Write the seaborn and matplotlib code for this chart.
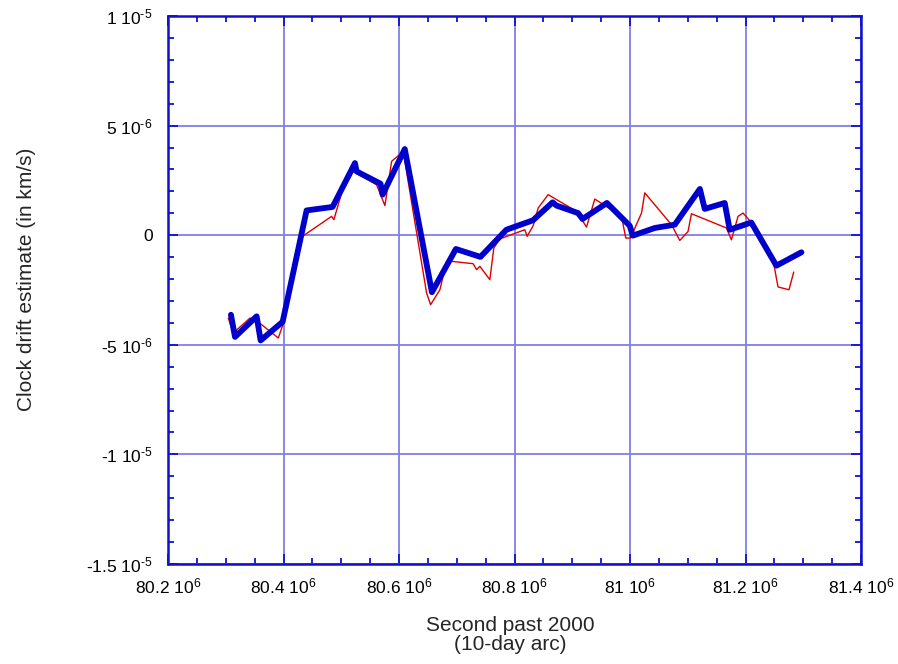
import matplotlib
matplotlib.use("Agg")
import matplotlib.pyplot as plt
from matplotlib.ticker import MultipleLocator, FixedLocator
import seaborn as sns
import pandas as pd
import numpy as np

# Blue (thick) series: seconds past 2000 (x 1e6), drift (x 1e-6 km/s)
blue_x = [80.309, 80.316, 80.3535, 80.3604, 80.3985, 80.440, 80.485, 80.5237, 80.5266,
          80.568, 80.5716, 80.610, 80.657, 80.6985, 80.741, 80.786, 80.832, 80.866,
          80.8728, 80.910, 80.9178, 80.960, 80.9996, 81.0048, 81.043, 81.0775, 81.121,
          81.1294, 81.164, 81.1727, 81.210, 81.2535, 81.2968]
blue_y = [-3.63, -4.64, -3.70, -4.80, -3.95, 1.13, 1.29, 3.29, 2.91,
          2.35, 1.85, 3.93, -2.60, -0.63, -0.99, 0.25, 0.68, 1.50,
          1.35, 1.01, 0.74, 1.47, 0.43, -0.02, 0.33, 0.48, 2.11,
          1.20, 1.47, 0.25, 0.58, -1.39, -0.78]

# Red (thin) series
red_x = [80.3044, 80.313, 80.342, 80.3558, 80.391, 80.399, 80.4198, 80.4285, 80.4833,
         80.4873, 80.5006, 80.5207, 80.5612, 80.5756, 80.5872, 80.6073, 80.6478, 80.6547,
         80.6708, 80.6824, 80.6938, 80.7284, 80.7343, 80.740, 80.7573, 80.7642, 80.7746,
         80.8179, 80.8219, 80.8323, 80.841, 80.8582, 80.9074, 80.9247, 80.939, 80.9853,
         80.9927, 81.0008, 81.0199, 81.0256, 81.0718, 81.0862, 81.1005, 81.1064, 81.167,
         81.1756, 81.1871, 81.1957, 81.2102, 81.2476, 81.2563, 81.2753, 81.2835]
red_y = [-3.78, -4.46, -3.78, -3.95, -4.69, -4.08, -0.97, -0.13, 0.86,
         0.71, 1.93, 2.91, 2.30, 1.35, 3.37, 3.82, -2.64, -3.17,
         -2.49, -1.20, -1.20, -1.30, -1.57, -1.42, -2.03, -0.58, -0.17,
         0.25, -0.05, 0.43, 1.24, 1.85, 1.09, 0.37, 1.65, 0.86,
         -0.13, -0.13, 1.01, 1.93, 0.48, -0.24, 0.17, 0.98, 0.33,
         -0.21, 0.86, 1.01, 0.58, -1.12, -2.36, -2.49, -1.68]

x_ticks = [80.2, 80.4, 80.6, 80.8, 81.0, 81.2, 81.4]
x_labels = ["80.2 10$^{6}$", "80.4 10$^{6}$", "80.6 10$^{6}$", "80.8 10$^{6}$",
            "81 10$^{6}$", "81.2 10$^{6}$", "81.4 10$^{6}$"]
y_ticks = [10, 5, 0, -5, -10, -15]
y_labels = ["1 10$^{\\text{-}5}$", "5 10$^{\\text{-}6}$", "0", "-5 10$^{\\text{-}6}$",
            "-1 10$^{\\text{-}5}$", "-1.5 10$^{\\text{-}5}$"]

sns.set_style("white")
plt.rcParams['font.family'] = ['Liberation Sans', 'DejaVu Sans']
plt.rcParams['mathtext.default'] = 'regular'
plt.rcParams['mathtext.fontset'] = 'custom'
plt.rcParams['mathtext.rm'] = 'Liberation Sans'

fig = plt.figure(figsize=(8.98, 6.64), dpi=100)
ax = fig.add_axes([168/898, 1-564/664, (861-168)/898, (564-16)/664])

grid_c = "#8080e6"
spine_c = "#1010d0"

ax.set_xlim(80.2, 81.4)
ax.set_ylim(-15, 10)
ax.xaxis.set_major_locator(FixedLocator(x_ticks))
ax.yaxis.set_major_locator(FixedLocator(y_ticks))
ax.xaxis.set_minor_locator(MultipleLocator(0.05))
ax.yaxis.set_minor_locator(MultipleLocator(1))
ax.set_xticklabels(x_labels)
ax.set_yticklabels(y_labels)
ax.grid(True, which='major', color=grid_c, linewidth=1.3)
ax.set_axisbelow(True)

red_df = pd.DataFrame({"x": red_x, "y": red_y})
blue_df = pd.DataFrame({"x": blue_x, "y": blue_y})
sns.lineplot(data=red_df, x="x", y="y", sort=False, estimator=None, ax=ax,
             color="#dd0000", linewidth=1.0)
sns.lineplot(data=blue_df, x="x", y="y", sort=False, estimator=None, ax=ax,
             color="#0000cc", linewidth=4.2, solid_joinstyle='round', solid_capstyle='round')

for s in ax.spines.values():
    s.set_color(spine_c)
    s.set_linewidth(1.8)
    s.set_visible(True)

ax.tick_params(which='both', direction='in', top=True, right=True, bottom=True, left=True,
               color=spine_c, labelsize=12.5, labelcolor='black')
ax.tick_params(which='major', length=7, width=1.3)
ax.tick_params(axis='x', which='major', pad=9)
ax.tick_params(axis='y', which='major', pad=11)
ax.tick_params(which='minor', length=4, width=1.3)

ax.set_xlabel("Second past 2000\n(10-day arc)", fontsize=15, linespacing=1.0)
ax.xaxis.set_label_coords((510-168)/693, (564-616)/548)
ax.set_ylabel("Clock drift estimate (in km/s)", fontsize=15)
ax.yaxis.set_label_coords((36-168)/693, (564-279)/548)

fig.savefig("out.png", dpi=100)
